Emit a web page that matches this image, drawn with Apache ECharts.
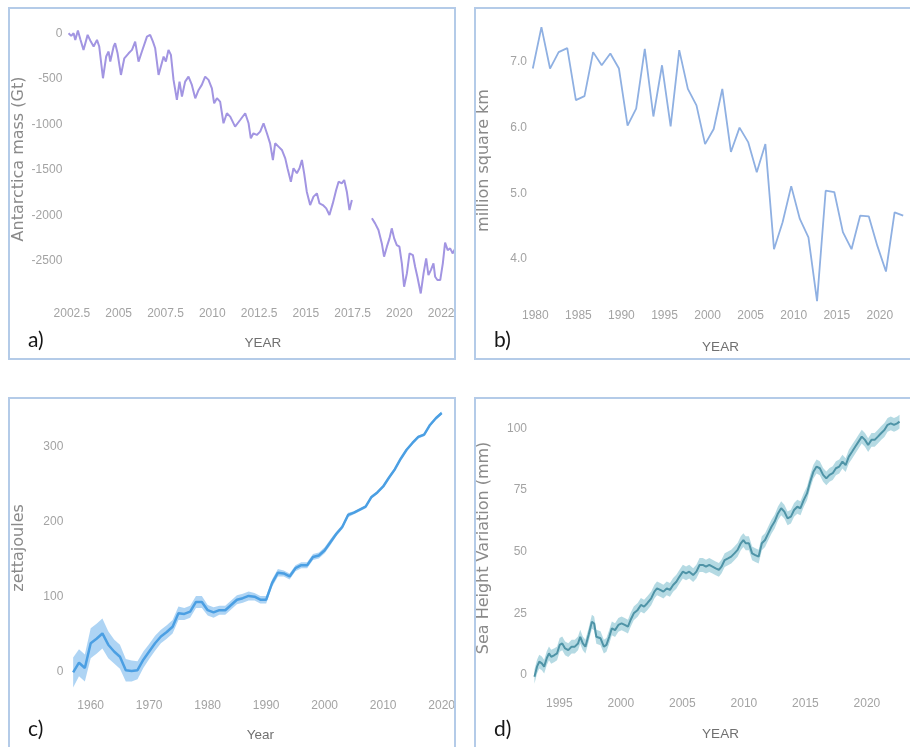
<!DOCTYPE html>
<html>
<head>
<meta charset="utf-8">
<script src="https://cdn.jsdelivr.net/npm/echarts@6/dist/echarts.min.js"></script>
<style>
  html, body { margin: 0; padding: 0; width: 910px; height: 747px; overflow: hidden; background: #fff; }
  .panel { position: absolute; border: 2px solid #b4cbe8; overflow: hidden; box-sizing: border-box; background: #fff; }
  .chart { position: absolute; width: 910px; height: 747px; }
</style>
</head>
<body>
<div class="panel" style="left:8px;top:7px;width:448px;height:353px"><div class="chart" id="chartA" style="left:-10px;top:-9px"></div></div>
<div class="panel" style="left:474px;top:7px;width:460px;height:353px"><div class="chart" id="chartB" style="left:-476px;top:-9px"></div></div>
<div class="panel" style="left:8px;top:397px;width:448px;height:360px"><div class="chart" id="chartC" style="left:-10px;top:-399px"></div></div>
<div class="panel" style="left:474px;top:397px;width:460px;height:360px"><div class="chart" id="chartD" style="left:-476px;top:-399px"></div></div>
<script>
// ---- a) Antarctic ice mass change (Gt), GRACE / GRACE-FO ----
const graceYears = [
  2002.32, 2002.46, 2002.59, 2002.68, 2002.82, 2002.95, 2003.12, 2003.34, 2003.51, 2003.66,
  2003.84, 2003.96, 2004.16, 2004.33, 2004.46, 2004.55, 2004.73, 2004.81, 2004.94, 2005.12,
  2005.30, 2005.53, 2005.71, 2005.88, 2006.06, 2006.24, 2006.42, 2006.51, 2006.68, 2006.83,
  2006.95, 2007.13, 2007.40, 2007.52, 2007.66, 2007.79, 2007.93, 2008.11, 2008.25, 2008.38,
  2008.55, 2008.73, 2008.91, 2009.09, 2009.27, 2009.44, 2009.62, 2009.80, 2009.98, 2010.10,
  2010.25, 2010.42, 2010.60, 2010.78, 2010.96, 2011.22, 2011.49, 2011.76, 2011.94, 2012.06,
  2012.20, 2012.38, 2012.56, 2012.74, 2012.92, 2013.09, 2013.24, 2013.36, 2013.54, 2013.72,
  2013.90, 2014.02, 2014.20, 2014.34, 2014.52, 2014.66, 2014.79, 2014.91, 2015.05, 2015.23,
  2015.41, 2015.59, 2015.73, 2015.91, 2016.09, 2016.26, 2016.44, 2016.62, 2016.75, 2016.92,
  2017.05, 2017.19, 2017.33, 2017.46,
  2018.00,
  2018.53, 2018.70, 2018.88, 2019.06, 2019.18, 2019.33, 2019.47, 2019.59, 2019.72, 2019.86,
  2020.00, 2020.13, 2020.25, 2020.40, 2020.54, 2020.72, 2020.84, 2020.96, 2021.14, 2021.29,
  2021.43, 2021.55, 2021.68, 2021.82, 2021.91, 2022.03, 2022.18, 2022.32, 2022.44, 2022.58,
  2022.71, 2022.85, 2022.98, 2023.10
];
const graceMass = [
  0, -29, 0, -73, 29, -66, -183, -18, -92, -146,
  -73, -146, -494, -256, -201, -311, -146, -110, -220, -458,
  -275, -220, -183, -92, -311, -201, -92, -37, -18, -92,
  -165, -458, -256, -311, -183, -238, -512, -732, -531, -695,
  -531, -476, -567, -714, -622, -567, -476, -512, -604, -769,
  -714, -750, -988, -878, -915, -1025, -952, -878, -988, -1153,
  -1098, -1116, -1080, -988, -1098, -1208, -1391, -1208, -1244, -1281,
  -1373, -1482, -1629, -1482, -1537, -1482, -1391, -1537, -1739, -1885,
  -1793, -1757, -1867, -1885, -1922, -1995, -1867, -1720, -1629, -1647,
  -1610, -1739, -1940, -1830,
  null,
  -2031, -2086, -2159, -2306, -2452, -2342, -2251, -2141, -2251, -2324,
  -2342, -2525, -2782, -2635, -2416, -2434, -2562, -2672, -2855, -2635,
  -2471, -2654, -2599, -2525, -2672, -2708, -2708, -2525, -2298, -2379,
  -2361, -2416, -2361, -2379
];
const graceXTicks = [2002.5, 2005, 2007.5, 2010, 2012.5, 2015, 2017.5, 2020, 2022.5];
const graceYTicks = [0, -500, -1000, -1500, -2000, -2500];

// ---- b) Arctic September sea-ice extent (million km²) ----
const iceYears = [
  1979, 1980, 1981, 1982, 1983, 1984, 1985, 1986, 1987, 1988, 1989,
  1990, 1991, 1992, 1993, 1994, 1995, 1996, 1997, 1998, 1999,
  2000, 2001, 2002, 2003, 2004, 2005, 2006, 2007, 2008, 2009,
  2010, 2011, 2012, 2013, 2014, 2015, 2016, 2017, 2018, 2019,
  2020, 2021, 2022
];
const iceExtent = [
  6.90, 7.53, 6.90, 7.15, 7.21, 6.42, 6.48, 7.15, 6.95, 7.13, 6.90,
  6.03, 6.29, 7.20, 6.17, 6.95, 6.02, 7.18, 6.59, 6.34, 5.75,
  5.98, 6.59, 5.63, 6.00, 5.78, 5.32, 5.75, 4.15, 4.56, 5.11,
  4.61, 4.33, 3.36, 5.04, 5.02, 4.41, 4.15, 4.66, 4.65, 4.20,
  3.81, 4.71, 4.66
];
const iceMonthOffset = 0.71; // September minimum, plotted within its year
const iceXTicks = [1980, 1985, 1990, 1995, 2000, 2005, 2010, 2015, 2020];
const iceYTicks = [4, 5, 6, 7];

// ---- c) Ocean heat content (zettajoules) with uncertainty ----
const ohcYears = [
  1957, 1958, 1959, 1960, 1961, 1962, 1963, 1964, 1965, 1966, 1967, 1968, 1969,
  1970, 1971, 1972, 1973, 1974, 1975, 1976, 1977, 1978, 1979,
  1980, 1981, 1982, 1983, 1984, 1985, 1986, 1987, 1988, 1989,
  1990, 1991, 1992, 1993, 1994, 1995, 1996, 1997, 1998, 1999,
  2000, 2001, 2002, 2003, 2004, 2005, 2006, 2007, 2008, 2009,
  2010, 2011, 2012, 2013, 2014, 2015, 2016, 2017, 2018, 2019, 2020
];
const ohcValues = [
  -1, 12, 5, 38, 44, 51, 36, 27, 20, 2, 1, 2, 16,
  27, 38, 47, 53, 60, 78, 77, 80, 93, 93,
  82, 79, 82, 82, 89, 96, 98, 101, 100, 96,
  96, 118, 132, 131, 127, 138, 142, 142, 153, 155,
  162, 173, 184, 193, 209, 212, 216, 220, 233, 239,
  247, 259, 270, 284, 296, 305, 313, 316, 329, 338, 345
];
const ohcUncertainty = [
  20, 18, 18, 20, 20, 20, 18, 16, 16, 15, 14, 12, 11,
  10, 10, 9, 9, 9, 9, 8, 8, 8, 8,
  7, 7, 6, 6, 6, 6, 6, 6, 5, 5,
  5, 5, 5, 4, 4, 4, 4, 4, 4, 4,
  4, 4, 3, 3, 3, 2, 2, 2, 2, 2,
  2, 2, 2, 2, 2, 2, 2, 2, 2, 2, 2
];
const ohcXTicks = [1960, 1970, 1980, 1990, 2000, 2010, 2020];
const ohcYTicks = [0, 100, 200, 300];

// ---- d) Global mean sea level variation (mm) ----
const seaYears = [
  1992.98, 1993.19, 1993.37, 1993.58, 1993.77, 1993.98, 1994.16, 1994.34, 1994.61, 1994.82,
  1995.03, 1995.24, 1995.47, 1995.73, 1996.00, 1996.26, 1996.52, 1996.70, 1996.91, 1997.12,
  1997.38, 1997.65, 1997.83, 1998.01, 1998.35, 1998.62, 1998.83, 1999.06, 1999.27, 1999.53,
  1999.80, 2000.06, 2000.32, 2000.58, 2000.79, 2001.05, 2001.37, 2001.63, 2001.89, 2002.15,
  2002.47, 2002.73, 2002.94, 2003.20, 2003.46, 2003.73, 2003.99, 2004.25, 2004.51, 2004.77,
  2005.04, 2005.30, 2005.56, 2005.88, 2006.14, 2006.40, 2006.66, 2006.92, 2007.19, 2007.45,
  2007.71, 2007.97, 2008.18, 2008.44, 2008.71, 2008.97, 2009.23, 2009.49, 2009.75, 2009.96,
  2010.15, 2010.41, 2010.67, 2010.93, 2011.20, 2011.46, 2011.72, 2011.98, 2012.24, 2012.50,
  2012.77, 2013.03, 2013.29, 2013.55, 2013.82, 2014.08, 2014.34, 2014.60, 2014.86, 2015.13,
  2015.39, 2015.65, 2015.91, 2016.17, 2016.44, 2016.70, 2016.96, 2017.22, 2017.48, 2017.75,
  2018.01, 2018.27, 2018.53, 2018.79, 2019.06, 2019.32, 2019.58, 2019.84, 2020.10, 2020.37,
  2020.63, 2020.89, 2021.15, 2021.42, 2021.68, 2021.94, 2022.20, 2022.46, 2022.65
];
const seaHeight = [
  -0.7, 3.4, 5.4, 4.7, 3.4, 6.8, 8.8, 7.4, 8.1, 8.8,
  12.2, 12.8, 10.8, 10.1, 11.5, 11.5, 12.8, 15.5, 12.8, 11.5,
  16.2, 21.6, 20.9, 15.5, 14.9, 11.5, 12.2, 15.5, 18.9, 18.2,
  20.3, 20.9, 20.3, 19.6, 22.3, 25.0, 26.4, 28.4, 27.7, 29.1,
  31.1, 33.8, 35.1, 34.5, 33.8, 35.1, 34.5, 36.5, 37.8, 39.9,
  41.9, 41.2, 41.9, 40.5, 41.9, 44.6, 44.6, 43.9, 44.6, 43.9,
  43.2, 42.6, 43.9, 46.6, 47.3, 48.0, 49.3, 50.7, 53.4, 54.7,
  53.4, 53.4, 49.3, 48.6, 48.0, 53.4, 54.7, 57.4, 60.1, 62.2,
  65.5, 67.6, 66.2, 63.5, 64.2, 66.9, 68.2, 67.6, 70.9, 73.6,
  78.4, 82.4, 84.5, 83.8, 81.1, 79.7, 81.1, 81.8, 83.8, 84.5,
  86.5, 85.1, 88.5, 90.5, 92.6, 94.6, 96.6, 95.3, 93.2, 95.3,
  95.3, 96.6, 98.0, 99.3, 101.4, 102.0, 101.4, 102.0, 102.7
];
const seaUncertainty = 2.8; // mm, half-width of the shaded band
const seaXTicks = [1995, 2000, 2005, 2010, 2015, 2020];
const seaYTicks = [0, 25, 50, 75, 100];

// ---- shared styling ----
const TICK_FONT = '"Liberation Sans Narrow", "Liberation Sans", Arial, sans-serif';
const TITLE_FONT = '"DejaVu Sans", sans-serif';
const tickLabel = { color: '#a3a3a3', fontFamily: TICK_FONT, fontSize: 12 };

function zip(xs, ys, dx) {
  return xs.map((x, i) => [dx ? x + dx : x, ys[i]]);
}

function valueAxis(extra) {
  return Object.assign({
    type: 'value',
    axisLine: { show: false },
    axisTick: { show: false },
    splitLine: { show: false }
  }, extra);
}

function xAxisOf(min, max, ticks, name, nameGap) {
  return valueAxis({
    min: min, max: max,
    name: name, nameLocation: 'middle', nameGap: nameGap,
    nameTextStyle: { color: '#707070', fontFamily: TICK_FONT, fontSize: 13.5 },
    axisLabel: Object.assign({ customValues: ticks, margin: 5, formatter: v => String(v) }, tickLabel)
  });
}

function yAxisOf(min, max, ticks, name, nameGap, fmt) {
  return valueAxis({
    min: min, max: max,
    name: name, nameLocation: 'middle', nameGap: nameGap, nameRotate: 90,
    nameTextStyle: { color: '#8a8a8a', fontFamily: TITLE_FONT, fontSize: 16 },
    axisLabel: Object.assign({ customValues: ticks, margin: 4, formatter: fmt || (v => String(v)) }, tickLabel)
  });
}

// Shaded uncertainty band: one polygon through the upper edge and back along the lower edge
function bandSeries(xs, lo, hi, color) {
  const rows = xs.map((x, i) => [x, lo[i], hi[i]]);
  return {
    type: 'custom', data: rows, silent: true, z: 1,
    encode: { x: 0, y: [1, 2] },
    renderItem(params, api) {
      if (params.dataIndex !== 0) return null;
      const upper = rows.map(r => api.coord([r[0], r[2]]));
      const lower = rows.map(r => api.coord([r[0], r[1]])).reverse();
      return { type: 'polygon', shape: { points: upper.concat(lower) }, style: { fill: color } };
    }
  };
}

function panelTag(text, x, y) {
  return {
    type: 'text', left: x, top: y, z: 100,
    style: { text: text, fill: '#161616', font: '21px Lato, "Open Sans", sans-serif' }
  };
}

function render(id, option) {
  const chart = echarts.init(document.getElementById(id), null, { renderer: 'canvas' });
  option.animation = false;
  chart.setOption(option);
}

// a)
render('chartA', {
  grid: { left: 66.3, top: 15, width: 393, height: 288 },
  xAxis: xAxisOf(2002.2, 2023.2, graceXTicks, 'YEAR', 33),
  yAxis: yAxisOf(-2960, 200, graceYTicks, 'Antarctica mass (Gt)', 39),
  graphic: [panelTag('a)', 28, 330)],
  series: [{
    type: 'line', data: zip(graceYears, graceMass), showSymbol: false, connectNulls: false,
    lineStyle: { color: '#a295e2', width: 2 }
  }]
});

// b)
render('chartB', {
  grid: { left: 531, top: 16, width: 386.8, height: 289 },
  xAxis: xAxisOf(1979.5, 2023.5, iceXTicks, 'YEAR', 35),
  yAxis: yAxisOf(3.3, 7.7, iceYTicks, 'million square km', 39, v => v.toFixed(1)),
  graphic: [panelTag('b)', 494, 330)],
  series: [{
    type: 'line', data: zip(iceYears, iceExtent, iceMonthOffset), showSymbol: false,
    lineStyle: { color: '#8fb0e2', width: 1.8 }
  }]
});

// c)
const ohcLower = ohcValues.map((v, i) => v - ohcUncertainty[i]);
const ohcUpper = ohcValues.map((v, i) => v + ohcUncertainty[i]);
render('chartC', {
  grid: { left: 67.3, top: 401.7, width: 386.1, height: 292.5 },
  xAxis: xAxisOf(1956, 2022, ohcXTicks, 'Year', 34),
  yAxis: yAxisOf(-30, 360, ohcYTicks, 'zettajoules', 40),
  graphic: [panelTag('c)', 28, 719)],
  series: [
    bandSeries(ohcYears, ohcLower, ohcUpper, 'rgba(160, 204, 242, 0.85)'),
    { type: 'line', data: zip(ohcYears, ohcValues), showSymbol: false, z: 3,
      lineStyle: { color: '#4b9fe3', width: 2.5 } }
  ]
});

// d)
const seaLower = seaHeight.map(v => v - seaUncertainty);
const seaUpper = seaHeight.map(v => v + seaUncertainty);
render('chartD', {
  grid: { left: 531, top: 403.6, width: 391.8, height: 288.7 },
  xAxis: xAxisOf(1992.7, 2023.5, seaXTicks, 'YEAR', 35),
  yAxis: yAxisOf(-7, 110, seaYTicks, 'Sea Height Variation (mm)', 39),
  graphic: [panelTag('d)', 494, 719)],
  series: [
    bandSeries(seaYears, seaLower, seaUpper, 'rgba(168, 212, 222, 0.85)'),
    { type: 'line', data: zip(seaYears, seaHeight), showSymbol: false, z: 3,
      lineStyle: { color: '#4f94a7', width: 2 } }
  ]
});
</script>
</body>
</html>
